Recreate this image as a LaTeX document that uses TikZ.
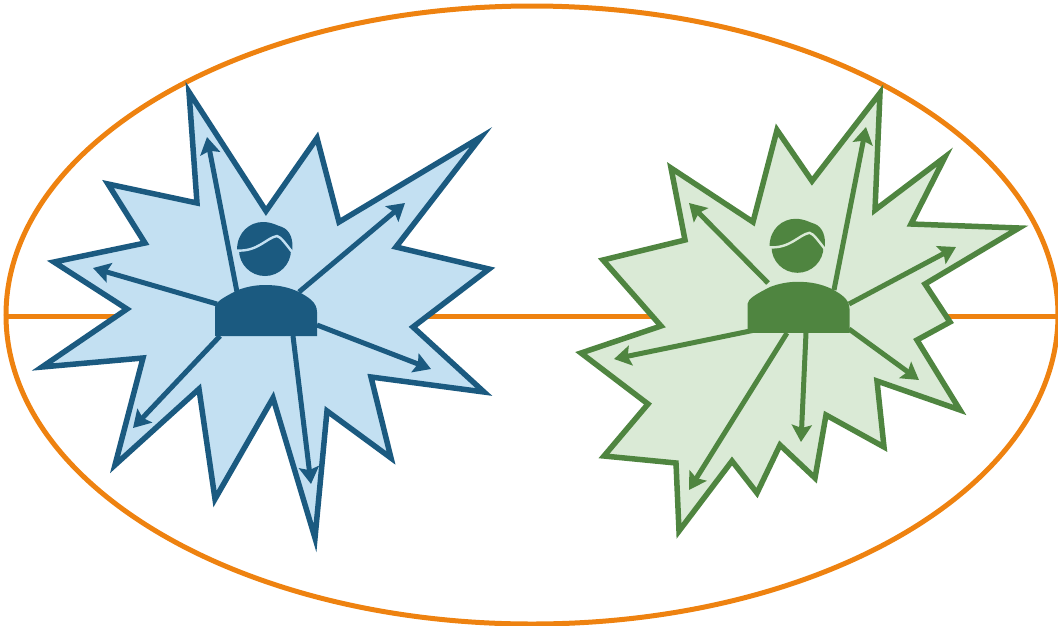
\documentclass[tikz,border=0pt]{standalone}
\usepackage{xcolor}
\usepackage{tikz}
\usetikzlibrary{arrows.meta, positioning}
\definecolor{deepblue}{HTML}{1B5A80}
\definecolor{paleblue}{HTML}{C3E0F2}
\definecolor{deepgreen}{HTML}{4F8540}
\definecolor{palegreen}{HTML}{DAEAD6}
\definecolor{ringorange}{HTML}{EE8210}
\tikzstyle{ring}=[line width=5pt,color=ringorange]
\tikzstyle{arr}=[-{Stealth[length=17pt,width=20pt,inset=3pt]},line width=5pt]
\tikzstyle{star}=[line width=5.5pt,miter limit=20]
% figure: head, hair parting, shoulders
\newcommand{\persongl}[2]{%
  \fill[#1] (265,250) circle[radius=26];
  \fill[#1] (237,250) .. controls (237,232) and (250,222) .. (263,222)
    .. controls (272,222) and (278,226) .. (282,227)
    .. controls (290,230) and (294,240) .. (292,252) -- cycle;
  \draw[#2,line width=2.4pt] (236,250.5) .. controls (258,252) and (266,238) .. (277,236)
    .. controls (281,237) and (285,243) .. (293,253);
  \fill[#1] (215,336) -- (215,307) .. controls (216,302) and (222,298) .. (238,290)
    .. controls (246,287) and (255,285) .. (265,285)
    .. controls (278,285) and (288,287) .. (299,292)
    .. controls (308,297) and (317,302) .. (317,312) -- (317,336) -- cycle;
}

\begin{document}
\begin{tikzpicture}[x=1pt,y=-1pt]
  \useasboundingbox (0,0) rectangle (1058,625);
  \coordinate (railw) at (7,316);
  \coordinate (raile) at (1057,316);
  \draw[ring] (532,315) ellipse[x radius=526,y radius=309];
  \draw[ring] (railw) -- (raile);

  % left person
  \draw[star,draw=deepblue,fill=paleblue] (189,92) -- (197,203) -- (108,184) -- (145,243)
    -- (54,262) -- (127,309) -- (42,367) -- (143,358) -- (115,465) -- (199,389)
    -- (215,499) -- (273,398) -- (315,538) -- (327,411) -- (391,458) -- (371,377)
    -- (484,392) -- (413,327) -- (489,269) -- (396,247) -- (481,137) -- (339,222)
    -- (317,138) -- (266,211) -- cycle;
  \foreach \i/\p/\q in {1/{237,292}/{207,137}, 2/{299,292}/{405,203}, 3/{217,304}/{93,268},
      4/{220,336}/{133,428}, 5/{293,336}/{311,484}, 6/{317,325}/{431,369}} {
    \coordinate (bluefrom\i) at (\p);
    \coordinate (blueto\i) at (\q);
    \draw[arr,color=deepblue] (bluefrom\i) -- (blueto\i);
  }
  \persongl{deepblue}{paleblue}

  % right person
  \draw[star,draw=deepgreen,fill=palegreen] (880,93) -- (875,210) -- (945,157) -- (911,224)
    -- (1019,228) -- (925,284) -- (950,322) -- (917,340) -- (960,410) -- (877,381)
    -- (884,447) -- (826,415) -- (815,478) -- (780,445) -- (757,493) -- (732,461)
    -- (679,531) -- (676,463) -- (604,456) -- (648,404) -- (581,353)
    -- (661,326) -- (603,260) -- (685,240) -- (671,168) -- (753,222) -- (777,130)
    -- (812,181) -- cycle;
  \foreach \i/\p/\q in {1/{768,283}/{689,203}, 2/{834,290}/{866,127}, 3/{849,304}/{956,247},
      4/{849,329}/{919,380}, 5/{806,333}/{801,442}, 6/{787,333}/{689,490}, 7/{755,330}/{614,359}} {
    \coordinate (greenfrom\i) at (\p);
    \coordinate (greento\i) at (\q);
    \draw[arr,color=deepgreen] (greenfrom\i) -- (greento\i);
  }
  \begin{scope}[shift={(532.5,-3.2)}]
    \persongl{deepgreen}{palegreen}
  \end{scope}
\end{tikzpicture}
\end{document}
